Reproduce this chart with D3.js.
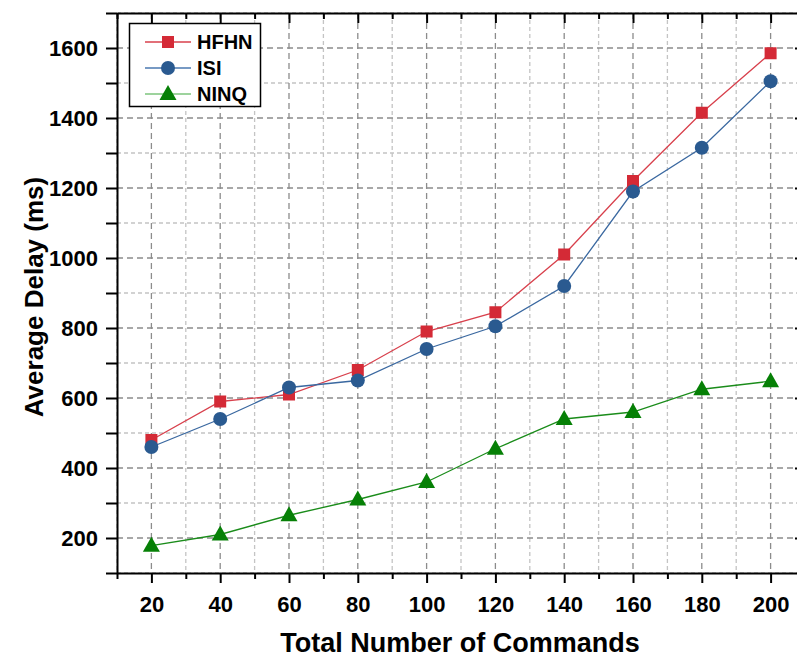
<!DOCTYPE html>
<html>
<head>
<meta charset="utf-8">
<script src="https://cdn.jsdelivr.net/npm/d3@7"></script>
<style>
  html, body { margin: 0; padding: 0; background: #fff; }
  svg { display: block; font-family: "Liberation Sans", Arial, sans-serif; }
</style>
</head>
<body>
<svg id="chart" width="797" height="658"></svg>
<script>
// Total number of commands (x) and average delay in ms for each scheme
const commands = [20, 40, 60, 80, 100, 120, 140, 160, 180, 200];
const hfhn = [480, 590, 610, 680, 790, 845, 1010, 1220, 1415, 1585];
const isi  = [460, 540, 630, 650, 740, 805, 920, 1190, 1315, 1505];
const ninq = [178, 210, 265, 310, 360, 455, 540, 560, 625, 648];

const xTicks = [20, 40, 60, 80, 100, 120, 140, 160, 180, 200];
const yTicks = [200, 400, 600, 800, 1000, 1200, 1400, 1600];

const seriesNames = ["HFHN", "ISI", "NINQ"];

const series = [
  { name: seriesNames[0], values: hfhn, line: "#d8404c", legendLine: "#d8404c", fill: "#d42a36", shape: "square" },
  { name: seriesNames[1], values: isi,  line: "#3a68a0", legendLine: "#4a78b0", fill: "#2a5a90", shape: "circle" },
  { name: seriesNames[2], values: ninq, line: "#1a8c1a", legendLine: "#7cc47c", fill: "#068006", shape: "triangle" }
];

const svg = d3.select("#chart");
const m = { left: 117, top: 13, right: 805, bottom: 573 };

const x = d3.scaleLinear().domain([10, 210]).range([m.left, m.right]);
const y = d3.scaleLinear().domain([100, 1700]).range([m.bottom, m.top]);

const xMinor = d3.range(10, 211, 10).filter(v => !xTicks.includes(v));
const yMinor = d3.range(100, 1701, 100).filter(v => !yTicks.includes(v));

// Grid: darker dashes at major ticks, lighter at minor ticks
const grid = svg.append("g");
grid.selectAll(".gxm").data(xMinor).join("line")
  .attr("x1", d => x(d)).attr("x2", d => x(d)).attr("y1", m.top).attr("y2", m.bottom)
  .attr("stroke", "#c4c4c4").attr("stroke-width", 1.3).attr("stroke-dasharray", "4,3");
grid.selectAll(".gym").data(yMinor).join("line")
  .attr("y1", d => y(d)).attr("y2", d => y(d)).attr("x1", m.left).attr("x2", m.right)
  .attr("stroke", "#c4c4c4").attr("stroke-width", 1.3).attr("stroke-dasharray", "4,3");
grid.selectAll(".gx").data(xTicks).join("line")
  .attr("x1", d => x(d)).attr("x2", d => x(d)).attr("y1", m.top).attr("y2", m.bottom)
  .attr("stroke", "#8c8c8c").attr("stroke-width", 1.3).attr("stroke-dasharray", "6,4");
grid.selectAll(".gy").data(yTicks).join("line")
  .attr("y1", d => y(d)).attr("y2", d => y(d)).attr("x1", m.left).attr("x2", m.right)
  .attr("stroke", "#8c8c8c").attr("stroke-width", 1.3).attr("stroke-dasharray", "6,4");

// Axes: outward ticks on bottom/left, inward ticks on top/right
function styleAxis(g) {
  g.select(".domain").attr("stroke", "#000").attr("stroke-width", 2);
  g.selectAll(".tick line").attr("stroke", "#000").attr("stroke-width", 2);
}
function minorLines(g) {
  g.select(".domain").remove();
  g.selectAll("line").attr("stroke", "#000").attr("stroke-width", 2);
}
const font = "bold 22px 'Liberation Sans', Arial, sans-serif";

const axisBottomG = svg.append("g").attr("transform", `translate(0,${m.bottom})`)
  .call(d3.axisBottom(x).tickValues(xTicks).tickSizeInner(10).tickSizeOuter(0).tickPadding(13).tickFormat(d3.format("d")));
styleAxis(axisBottomG);
axisBottomG.selectAll("text").style("font", font).attr("fill", "#000");
svg.append("g").attr("transform", `translate(0,${m.bottom})`)
  .call(d3.axisBottom(x).tickValues(xMinor).tickSize(6).tickFormat(""))
  .call(minorLines);

const axisLeftG = svg.append("g").attr("transform", `translate(${m.left},0)`)
  .call(d3.axisLeft(y).tickValues(yTicks).tickSizeInner(11).tickSizeOuter(0).tickPadding(8).tickFormat(d3.format("d")));
styleAxis(axisLeftG);
axisLeftG.selectAll("text").style("font", font).attr("fill", "#000");
svg.append("g").attr("transform", `translate(${m.left},0)`)
  .call(d3.axisLeft(y).tickValues(yMinor).tickSize(11).tickFormat(""))
  .call(minorLines);

const axisTopG = svg.append("g").attr("transform", `translate(0,${m.top})`)
  .call(d3.axisBottom(x).tickValues(xTicks).tickSizeInner(10).tickSizeOuter(0).tickFormat(""));
styleAxis(axisTopG);
svg.append("g").attr("transform", `translate(0,${m.top})`)
  .call(d3.axisBottom(x).tickValues(xMinor).tickSize(6).tickFormat(""))
  .call(minorLines);

const axisRightG = svg.append("g").attr("transform", `translate(${m.right},0)`)
  .call(d3.axisLeft(y).tickValues(yTicks).tickSizeInner(10).tickSizeOuter(0).tickFormat(""));
styleAxis(axisRightG);

// Axis titles
svg.append("text")
  .attr("x", 460).attr("y", 652).attr("text-anchor", "middle")
  .style("font", "bold 27px 'Liberation Sans', Arial, sans-serif").text("Total Number of Commands");
svg.append("text")
  .attr("transform", "translate(43,297) rotate(-90)").attr("text-anchor", "middle")
  .style("font", "bold 26px 'Liberation Sans', Arial, sans-serif").text("Average Delay (ms)");

// Marker drawing
function marker(sel, shape, fill) {
  if (shape === "square") {
    sel.append("rect").attr("x", -6).attr("y", -6).attr("width", 12).attr("height", 12).attr("fill", fill);
  } else if (shape === "circle") {
    sel.append("circle").attr("r", 7).attr("fill", fill);
  } else {
    sel.append("path").attr("d", "M0,-9L8.5,6L-8.5,6Z").attr("fill", fill);
  }
}

// Lines and markers
const line = d3.line().x((d, i) => x(commands[i])).y(d => y(d));
series.forEach(s => {
  svg.append("path").datum(s.values)
    .attr("d", line).attr("fill", "none").attr("stroke", s.line).attr("stroke-width", 1.3);
  svg.append("g").selectAll("g").data(s.values).join("g")
    .attr("transform", (d, i) => `translate(${x(commands[i])},${y(d)})`)
    .each(function () { marker(d3.select(this), s.shape, s.fill); });
});

// Legend
const lg = svg.append("g");
lg.append("rect").attr("x", 129.5).attr("y", 23.5).attr("width", 131).attr("height", 83)
  .attr("fill", "#fff").attr("stroke", "#000").attr("stroke-width", 1.5);
series.forEach((s, i) => {
  const cy = 42 + i * 26;
  lg.append("line").attr("x1", 145).attr("x2", 191).attr("y1", cy).attr("y2", cy)
    .attr("stroke", s.legendLine).attr("stroke-width", 1.5);
  const mg = lg.append("g").attr("transform", `translate(168,${cy})`);
  marker(mg, s.shape, s.fill);
  lg.append("text").attr("x", 197).attr("y", cy + 7)
    .style("font", "bold 20px 'Liberation Sans', Arial, sans-serif").text(s.name);
});
</script>
</body>
</html>
